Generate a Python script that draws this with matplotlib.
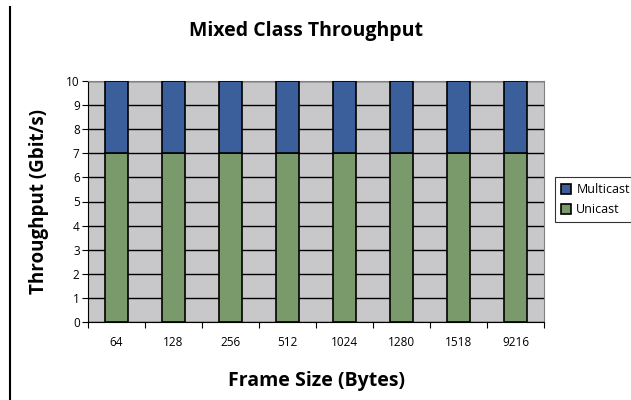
import matplotlib.pyplot as plt
from matplotlib.lines import Line2D
import numpy as np

# chart data
frame_sizes = ['64', '128', '256', '512', '1024', '1280', '1518', '9216']
unicast = [7, 7, 7, 7, 7, 7, 7, 7]
multicast = [3, 3, 3, 3, 3, 3, 3, 3]

plt.rcParams['font.family'] = ['Open Sans', 'DejaVu Sans']

fig = plt.figure(figsize=(6.31, 4.0), dpi=100)
ax = fig.add_axes([88 / 631, 1 - 322 / 400, (544 - 88) / 631, (322 - 81) / 400])
ax.set_facecolor('#c8c8ca')

x = np.arange(len(frame_sizes))
ax.bar(x, unicast, width=0.4, color='#7a9a6c', edgecolor='black', linewidth=1.2,
       label='Unicast', zorder=3)
ax.bar(x, multicast, width=0.4, bottom=unicast, color='#3a5f9a', edgecolor='black',
       linewidth=1.2, label='Multicast', zorder=3)

ax.set_xlim(-0.5, len(frame_sizes) - 0.5)
ax.set_ylim(0, 10)
ax.set_yticks(range(0, 11))
ax.yaxis.grid(True, color='black', linewidth=1.0, zorder=1)
ax.set_axisbelow(True)

ax.set_xticks(x)
ax.set_xticklabels(frame_sizes, fontsize=8.5)
ax.set_xticks(np.arange(-0.5, len(frame_sizes)), minor=True)
ax.tick_params(axis='x', which='major', length=0, pad=10)
ax.tick_params(axis='x', which='minor', length=4, direction='out', width=0.8)
ax.tick_params(axis='y', length=4, direction='out', width=0.8, labelsize=8.5, pad=2)

for s in ['top', 'right']:
    ax.spines[s].set_color('#808080')
for s in ['left', 'bottom']:
    ax.spines[s].set_color('black')

fig.text(306 / 631, 1 - 31 / 400, 'Mixed Class Throughput', fontsize=14,
         fontweight='bold', ha='center', va='center')
ax.set_ylabel('Throughput (Gbit/s)', fontsize=13.5, fontweight='bold', labelpad=12)
ax.set_xlabel('Frame Size (Bytes)', fontsize=14, fontweight='bold', labelpad=16)

handles, labels = ax.get_legend_handles_labels()
leg = fig.legend(handles[::-1], labels[::-1], loc='upper left',
                 bbox_to_anchor=(555 / 631, 1 - 177 / 400), fontsize=9,
                 frameon=True, fancybox=False, edgecolor='black',
                 handlelength=0.8, handleheight=0.8, handletextpad=0.4,
                 borderpad=0.5, labelspacing=0.55, borderaxespad=0)
leg.get_frame().set_linewidth(0.8)

# left border line of the page
fig.add_artist(Line2D([9.5 / 631, 9.5 / 631], [0, 1 - 7 / 400], color='black', linewidth=1.5))

fig.savefig('out.png', dpi=100)
